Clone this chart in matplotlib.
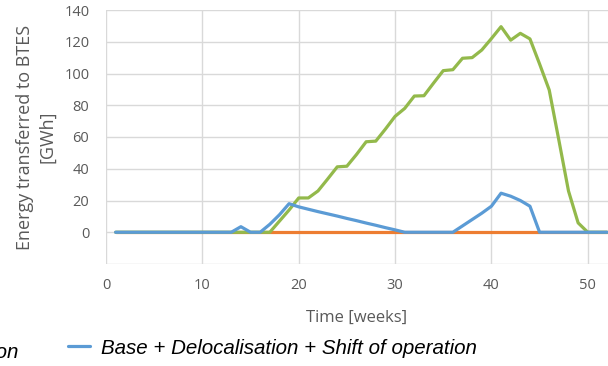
import numpy as np
import matplotlib.pyplot as plt

weeks = np.arange(1, 53)

# orange: zero all year
base = np.zeros(52)

# green
green = [0, 0, 0, 0, 0, 0, 0, 0, 0, 0, 0, 0, 0, 0, 0, 0, 0,
         7, 14, 21.6, 21.6, 26, 33.5, 41.2, 41.6, 49, 57, 57.4, 65, 73,
         78, 85.8, 86, 94, 101.8, 102.4, 109.6, 110, 114.8, 122, 129.5,
         121, 125.3, 121.8, 106, 89.6, 58, 26, 5.9, 0, 0, 0]

# blue: Base + Delocalisation + Shift of operation
blue = [0, 0, 0, 0, 0, 0, 0, 0, 0, 0, 0, 0, 0, 3.5, 0, 0, 5, 11, 18, 16,
        14.5, 13, 11.6, 10.2, 8.7, 7.3, 5.8, 4.4, 2.9, 1.5, 0, 0, 0, 0, 0,
        0, 4, 8, 12, 16.4, 24.6, 22.7, 20, 16.4, 0, 0, 0, 0, 0, 0, 0, 0]

c_orange = '#ED7D31'
c_green = '#93B94B'
c_blue = '#5B9BD5'
grey = '#595959'

plt.rcParams['font.family'] = ['Open Sans', 'DejaVu Sans']

fig = plt.figure(figsize=(6.08, 3.66), dpi=100)
ax = fig.add_axes([106 / 608, 102 / 366, 502 / 608, 254 / 366])

ax.plot(weeks, base, color=c_orange, lw=2.3, solid_capstyle='round')
ax.plot(weeks, green, color=c_green, lw=2.3, solid_capstyle='round')
ln, = ax.plot(weeks, blue, color=c_blue, lw=2.3, solid_capstyle='round')

ax.set_xlim(0, 52.1)
ax.set_ylim(-20, 140)
ax.set_xticks([0, 10, 20, 30, 40, 50])
ax.set_yticks(np.arange(-20, 141, 20))
ax.set_yticklabels([''] + [str(v) for v in range(0, 141, 20)])
ax.grid(True, color='#D9D9D9', lw=1)
ax.set_axisbelow(True)
for s in ax.spines.values():
    s.set_visible(False)
ax.tick_params(length=0, colors=grey, labelsize=10.5)
ax.tick_params(axis='y', pad=12)
ax.tick_params(axis='x', pad=10)

ax.set_xlabel('Time [weeks]', color=grey, fontsize=12, labelpad=12)
ax.set_ylabel('Energy transferred to BTES\n[GWh]', color=grey, fontsize=13,
              labelpad=6, linespacing=1.25)

fig.legend([ln], ['Base + Delocalisation + Shift of operation'],
           loc='center left', bbox_to_anchor=(49 / 608, 1 - 348 / 366),
           frameon=False, handlelength=1.1, handletextpad=0.55,
           prop={'family': 'Liberation Sans', 'style': 'italic', 'size': 14.8})
fig.text(18 / 608, 1 - 352 / 366, 'Base + Delocalisation', ha='right',
         va='center', fontsize=14.8, family='Liberation Sans', style='italic')

fig.savefig('out.png', dpi=100)
